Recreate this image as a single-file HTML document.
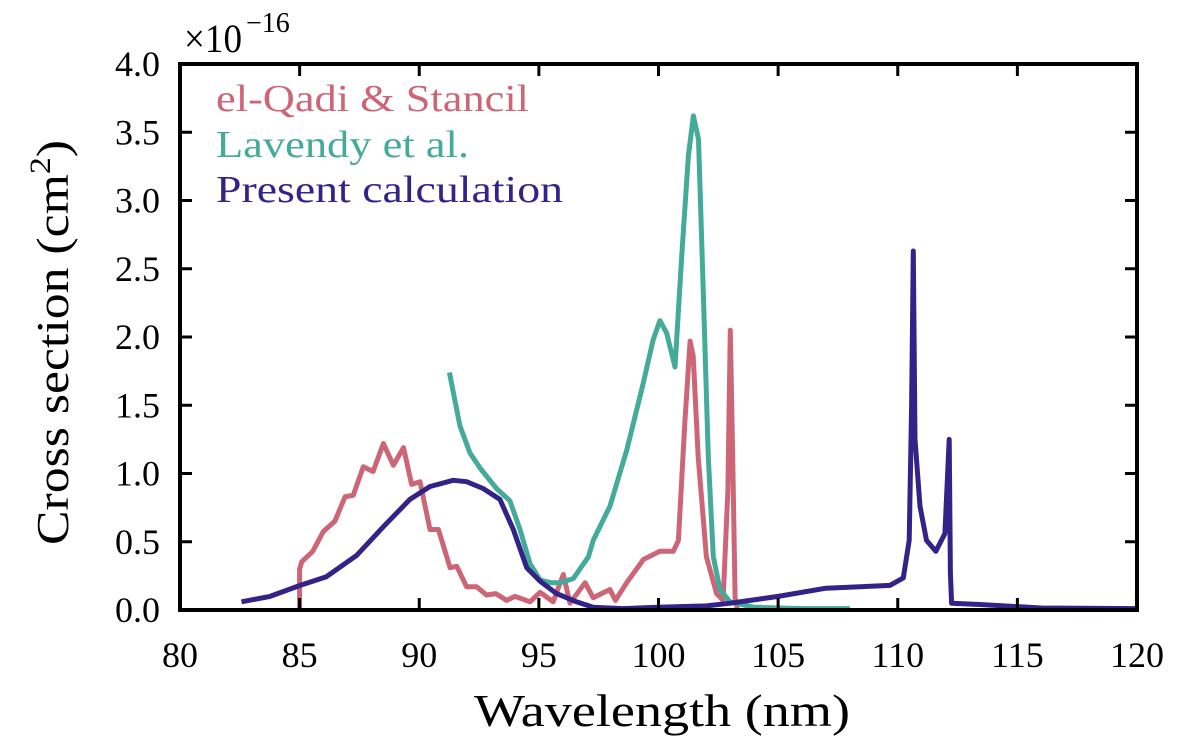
<!DOCTYPE html>
<html><head><meta charset="utf-8"><style>
html,body{margin:0;padding:0;background:#fff;}
svg{display:block;font-family:"Liberation Serif",serif;}
</style></head><body>
<svg id="chart" width="1200" height="745" viewBox="0 0 1200 745">
<g id="marks"></g>
<g id="axes"></g>
</svg>
<script>
const xTicks = [80,85,90,95,100,105,110,115,120];
const yTicks = [0,0.5,1.0,1.5,2.0,2.5,3.0,3.5,4.0];
const yTickLabels = ["0.0","0.5","1.0","1.5","2.0","2.5","3.0","3.5","4.0"];

const qadiX = [85.0,85.0,85.09,85.55,85.99,86.47,86.9,87.24,87.66,88.07,88.5,88.92,89.34,89.68,90.03,90.45,90.8,91.29,91.57,91.98,92.4,92.81,93.2,93.65,94.0,94.63,95.05,95.6,96.02,96.3,96.93,97.27,97.97,98.2,98.67,99.37,100.06,100.62,100.83,101.1,101.32,101.45,101.66,102.0,102.43,102.7,102.9,103.0,103.1,103.2,103.3];
const qadiY = [0.0,0.30,0.354,0.43,0.575,0.65,0.83,0.84,1.05,1.015,1.22,1.06,1.19,0.92,0.94,0.59,0.59,0.31,0.32,0.17,0.17,0.11,0.12,0.07,0.1,0.06,0.13,0.06,0.26,0.05,0.2,0.09,0.15,0.07,0.2,0.37,0.43,0.43,0.51,1.37,1.97,1.86,1.12,0.39,0.12,0.07,0.88,2.05,1.12,0.09,0.0];

const lavX = [91.26,91.7,92.12,92.54,93.23,93.79,94.21,94.63,95.05,95.5,95.88,96.44,97.07,97.27,97.97,98.67,99.36,99.78,100.06,100.34,100.69,100.97,101.25,101.46,101.67,101.87,102.08,102.29,102.57,102.99,104,106,108];
const lavY = [1.74,1.35,1.15,1.04,0.89,0.80,0.59,0.34,0.22,0.20,0.20,0.23,0.39,0.51,0.76,1.17,1.66,1.98,2.12,2.03,1.78,2.59,3.33,3.62,3.45,2.35,1.12,0.39,0.15,0.06,0.02,0.01,0.01];

const presX = [82.57,83.76,85.02,86.12,87.38,88.5,89.61,90.45,91.42,91.98,92.67,93.37,93.93,94.49,95.05,95.74,96.57,97.27,98.5,100,102,103,105,107,108.42,109.67,110.23,110.48,110.58,110.65,110.72,110.93,111.2,111.59,111.97,112.15,112.2,112.25,113.43,116,120];
const presY = [0.06,0.10,0.18,0.244,0.40,0.61,0.81,0.905,0.95,0.94,0.89,0.81,0.59,0.31,0.21,0.12,0.06,0.02,0.01,0.02,0.03,0.05,0.1,0.16,0.17,0.18,0.235,0.51,1.49,2.63,1.25,0.76,0.51,0.43,0.56,1.25,0.27,0.05,0.04,0.015,0.01];

const L=180, R=1137, T=64, B=610;
function sx(v){return L+(v-80)/(120-80)*(R-L);}
function sy(v){return B-(v-0)/(4-0)*(B-T);}
const NS="http://www.w3.org/2000/svg";
const marks=document.getElementById('marks'), axes=document.getElementById('axes');

function line(xs,ys,color,name){
  const p=document.createElementNS(NS,'path');
  let d=xs.map((x,i)=>(i?'L':'M')+sx(x).toFixed(1)+','+sy(ys[i]).toFixed(1)).join('');
  p.setAttribute('d',d);p.setAttribute('fill','none');p.setAttribute('stroke',color);
  p.setAttribute('stroke-width','5');p.setAttribute('stroke-linejoin','round');
  
  
  marks.appendChild(p);
}
line(qadiX,qadiY,'#CC6677','el-qadi-stancil-line');
line(lavX,lavY,'#44AA99','lavendy-line');
line(presX,presY,'#332288','present-calculation-line');

function el(tag,attrs,parent,text){
  const e=document.createElementNS(NS,tag);
  for(const k in attrs)e.setAttribute(k,attrs[k]);
  if(text!==undefined)e.textContent=text;
  parent.appendChild(e);return e;
}
xTicks.forEach((v,i)=>{
  const x=sx(v);
  const t1=el('line',{x1:x,x2:x,y1:B,y2:B-12,stroke:'#000','stroke-width':3},axes);
  
  
  const t2=el('line',{x1:x,x2:x,y1:T,y2:T+12,stroke:'#000','stroke-width':3},axes);
  
  
  const lb=el('text',{x:x,y:667,'text-anchor':'middle','font-size':36},axes,String(v));
  
  
});
yTicks.forEach((v,i)=>{
  const y=sy(v);
  const t1=el('line',{x1:L,x2:L+12,y1:y,y2:y,stroke:'#000','stroke-width':3},axes);
  
  
  const t2=el('line',{x1:R,x2:R-12,y1:y,y2:y,stroke:'#000','stroke-width':3},axes);
  
  
  const lb=el('text',{x:160,y:y+12,'text-anchor':'end','font-size':36},axes,yTickLabels[i]);
  
  
});
const fr=el('rect',{x:L,y:T,width:R-L,height:B-T,fill:'none',stroke:'#000','stroke-width':4},axes);


</script>
<svg width="1200" height="745" style="position:absolute;left:0;top:0;font-family:'Liberation Serif',serif">
<text x="184" y="52" font-size="40" textLength="58" lengthAdjust="spacingAndGlyphs">×10</text>
<text x="246" y="32" font-size="28">−16</text>
<text x="216" y="111" font-size="38" fill="#CC6677" textLength="313" lengthAdjust="spacingAndGlyphs">el-Qadi &amp; Stancil</text>
<text x="216" y="157" font-size="38" fill="#44AA99" textLength="253" lengthAdjust="spacingAndGlyphs">Lavendy et al.</text>
<text x="216" y="202" font-size="38" fill="#332288" textLength="347" lengthAdjust="spacingAndGlyphs">Present calculation</text>
<text x="474" y="726" font-size="46" textLength="376" lengthAdjust="spacingAndGlyphs">Wavelength (nm)</text>
<text transform="translate(68,545) rotate(-90)" font-size="46" textLength="405" lengthAdjust="spacingAndGlyphs">Cross section (cm<tspan font-size="30" dy="-18">2</tspan><tspan dy="18">)</tspan></text>
</svg>
</body></html>
